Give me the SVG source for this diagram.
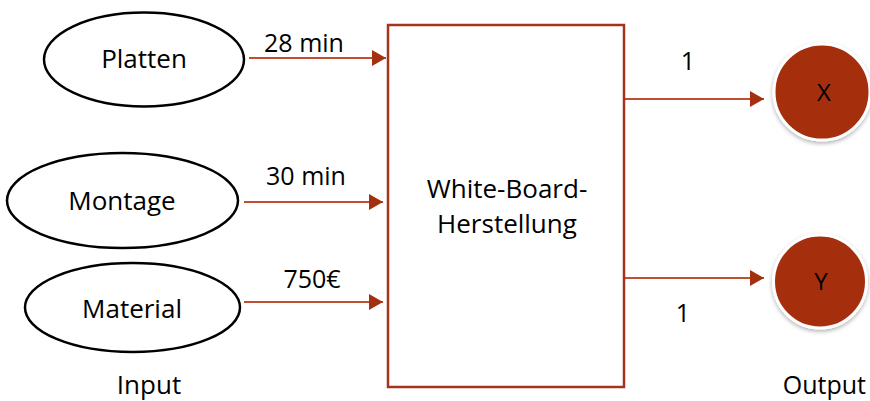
<svg xmlns="http://www.w3.org/2000/svg" width="870" height="401" viewBox="0 0 870 401">
<style>
  text { font-family: "Open Sans", "Liberation Sans", sans-serif; font-size: 26px; fill: #000; }
  .lbl { font-size: 25px; }
  .ell { fill: #fff; stroke: #000; stroke-width: 2.5; }
  .box { fill: #fff; stroke: #A5341C; stroke-width: 2.5; }
  .conn { stroke: #BE4F32; stroke-width: 1.8; fill: none; }
  .out { fill: #A52F10; stroke: #fff; stroke-width: 3; filter: url(#sh); }
</style>
<defs>
  <marker id="ah" viewBox="0 0 14 16" refX="14" refY="8" markerWidth="14" markerHeight="16" markerUnits="userSpaceOnUse" orient="auto">
    <path d="M0,0 L14,8 L0,16 Z" fill="#A5300F"/>
  </marker>
  <filter id="sh" x="-20%" y="-20%" width="140%" height="140%">
    <feDropShadow dx="0" dy="2" stdDeviation="2" flood-color="#000" flood-opacity="0.3"/>
  </filter>
</defs>
<rect width="870" height="401" fill="#fff"/>

<g id="connectors">
  <line class="conn" x1="249" y1="58" x2="386" y2="58" marker-end="url(#ah)"/>
  <line class="conn" x1="244" y1="202" x2="383" y2="202" marker-end="url(#ah)"/>
  <line class="conn" x1="244" y1="302" x2="383" y2="302" marker-end="url(#ah)"/>
  <line class="conn" x1="625" y1="99" x2="764" y2="99" marker-end="url(#ah)"/>
  <line class="conn" x1="625" y1="278" x2="764" y2="278" marker-end="url(#ah)"/>
  <text class="lbl" x="304" y="52" text-anchor="middle">28 min</text>
  <text class="lbl" x="306" y="185" text-anchor="middle">30 min</text>
  <text class="lbl" x="312" y="288" text-anchor="middle">750€</text>
  <text class="lbl" x="688" y="70" text-anchor="middle">1</text>
  <text class="lbl" x="683" y="322" text-anchor="middle">1</text>
</g>

<g id="platten">
  <ellipse class="ell" cx="144" cy="59.5" rx="100" ry="47"/>
  <text x="144" y="68" text-anchor="middle">Platten</text>
</g>
<g id="montage">
  <ellipse class="ell" cx="122.5" cy="200.5" rx="115.5" ry="47.5"/>
  <text x="122" y="210" text-anchor="middle">Montage</text>
</g>
<g id="material">
  <ellipse class="ell" cx="132.5" cy="307.5" rx="107.5" ry="44.5"/>
  <text x="132" y="318" text-anchor="middle">Material</text>
</g>
<g id="process">
  <rect class="box" x="388" y="25" width="236" height="362"/>
  <text x="507" y="198" text-anchor="middle">White-Board-</text>
  <text x="507" y="233" text-anchor="middle">Herstellung</text>
</g>
<g id="x">
  <circle class="out" cx="822" cy="92" r="48"/>
  <text x="824" y="101" text-anchor="middle" style="font-size:24px">X</text>
</g>
<g id="y">
  <circle class="out" cx="820" cy="281.5" r="46.5"/>
  <text x="821" y="290" text-anchor="middle" style="font-size:24px">Y</text>
</g>
<text x="149" y="394" text-anchor="middle">Input</text>
<text x="866" y="394" text-anchor="end" style="font-size:25px">Output</text>
</svg>
